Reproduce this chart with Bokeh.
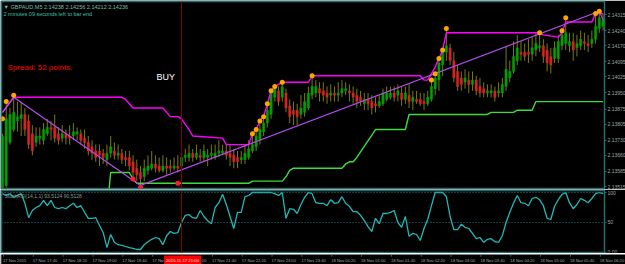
from bokeh.plotting import figure
from bokeh.layouts import column
from bokeh.models import Range1d, FixedTicker, Span, Label
from bokeh.models import ColumnDataSource
from bokeh.core.properties import value
from bokeh.embed import file_html
from bokeh.resources import INLINE

# ---------------- data (prices in pips above BASE) ----------------
BASE = 2.135
PIP = 0.0001

bar_open = [1, 2, 22, 28, 32, 33, 35, 32, 26, 22,
            24, 23, 26, 29, 29, 26, 24, 26, 25, 25,
            26, 26, 24, 22, 20, 18, 18, 17, 14, 17,
            18, 16, 17, 15, 15, 13, 10, 8, 6, 9,
            10, 12, 11, 9, 11, 11, 10, 11, 11, 15,
            15, 17, 15, 16, 15, 15, 16, 15, 17, 17,
            18, 17, 16, 15, 14, 14, 15, 18, 20, 23,
            27, 31, 35, 43, 46, 43, 45, 39, 37, 37,
            35, 36, 38, 44, 45, 47, 46, 45, 44, 45,
            44, 45, 46, 46, 45, 44, 43, 40, 42, 41,
            40, 39, 40, 42, 43, 45, 44, 45, 42, 44,
            41, 42, 42, 41, 40, 42, 47, 51, 58, 64,
            66, 60, 55, 52, 50, 51, 49, 51, 48, 47,
            45, 45, 46, 45, 45, 48, 52, 55, 60, 64,
            64, 64, 63, 65, 66, 67, 65, 62, 61, 61,
            67, 68, 67, 69, 66, 67, 69, 68, 68, 70,
            75, 76]
bar_high = [26, 41, 38, 43, 41, 41, 38, 35, 30, 29,
            29, 31, 33, 32, 35, 29, 30, 28, 30, 31,
            29, 28, 28, 25, 23, 21, 21, 19, 21, 25,
            22, 21, 19, 18, 18, 16, 14, 11, 14, 16,
            18, 16, 15, 16, 15, 14, 15, 16, 18, 19,
            21, 19, 21, 19, 21, 19, 21, 21, 23, 21,
            21, 21, 19, 18, 18, 21, 23, 26, 28, 32,
            34, 40, 46, 48, 48, 50, 47, 42, 41, 40,
            44, 45, 48, 53, 51, 50, 50, 48, 49, 48,
            50, 51, 50, 49, 48, 47, 46, 45, 45, 44,
            43, 44, 47, 48, 48, 48, 49, 48, 48, 49,
            46, 46, 45, 45, 46, 51, 54, 61, 66, 75,
            68, 64, 58, 55, 56, 55, 55, 53, 52, 50,
            49, 49, 48, 50, 52, 67, 60, 69, 72, 69,
            68, 70, 71, 73, 73, 70, 68, 66, 69, 72,
            74, 80, 73, 73, 72, 74, 73, 72, 74, 82,
            83, 82]
bar_low = [0, 1, 21, 27, 27, 25, 25, 19, 16, 20,
           21, 21, 25, 23, 22, 21, 22, 21, 21, 23,
           23, 21, 19, 16, 14, 13, 11, 12, 11, 15,
           14, 14, 12, 11, 9, 5, 4, 2, 4, 7,
           9, 8, 8, 8, 7, 8, 9, 8, 10, 13,
           13, 13, 14, 13, 13, 11, 14, 14, 15, 16,
           14, 11, 10, 10, 12, 12, 14, 17, 18, 21,
           25, 29, 33, 41, 39, 41, 36, 31, 30, 30,
           33, 34, 37, 42, 43, 41, 41, 40, 41, 41,
           41, 43, 44, 41, 40, 38, 39, 37, 37, 35,
           36, 38, 39, 41, 42, 41, 41, 39, 40, 38,
           37, 40, 39, 37, 39, 41, 44, 46, 53, 60,
           58, 50, 46, 46, 47, 45, 46, 44, 43, 43,
           43, 43, 41, 43, 43, 46, 50, 54, 58, 60,
           60, 59, 60, 62, 64, 59, 55, 54, 59, 59,
           65, 65, 64, 60, 62, 65, 65, 64, 66, 68,
           73, 74]
bar_close = [25, 33, 35, 36, 34, 35, 28, 21, 18, 25,
             25, 28, 29, 28, 24, 23, 26, 24, 24, 27,
             27, 23, 22, 18, 17, 15, 16, 15, 17, 20,
             16, 17, 14, 14, 11, 8, 7, 5, 10, 11,
             12, 10, 9, 11, 10, 10, 11, 10, 15, 16,
             17, 15, 17, 15, 18, 16, 17, 17, 18, 18,
             16, 15, 13, 13, 15, 17, 19, 21, 25, 28,
             31, 37, 45, 47, 41, 48, 38, 34, 35, 34,
             38, 41, 45, 48, 48, 45, 44, 43, 45, 44,
             45, 47, 47, 45, 43, 41, 41, 42, 40, 38,
             39, 41, 45, 45, 45, 43, 46, 42, 45, 41,
             43, 41, 40, 40, 43, 48, 52, 59, 65, 67,
             60, 52, 48, 49, 52, 49, 51, 46, 45, 45,
             46, 46, 43, 46, 49, 56, 55, 62, 66, 63,
             62, 63, 66, 68, 67, 62, 59, 58, 66, 69,
             72, 73, 69, 65, 68, 70, 68, 67, 70, 76,
             80, 79]

# trailing upper (magenta) and lower (green) levels, bar index -> pips
upper_bar = [0, 3, 32, 33, 35, 43, 45, 47, 48, 50, 51, 59, 60, 66, 67, 68, 69, 70,
             71, 72, 73, 75, 82, 83, 112, 113, 114, 115, 116, 117, 118, 119, 144,
             145, 149, 150, 151, 158, 159, 161]
upper_val = [36, 43, 43, 42, 38, 38, 34, 34, 33, 28, 25, 24, 21, 21, 26, 28, 32, 34,
             40, 46, 48, 50, 50, 53, 53, 51, 51, 54, 57, 61, 65, 73, 73,
             72, 71, 73, 78, 78, 82, 82]
lower_bar = [0, 28, 29, 34, 35, 36, 66, 67, 75, 76, 77, 78, 91, 92, 93, 94, 95, 100,
             108, 109, 130, 131, 137, 138, 142, 143, 161]
lower_val = [-10, -10, 8, 8, 5, 3, 3, 4, 4, 6, 9, 10, 10, 12, 13, 13, 15, 28,
             28, 35, 35, 36, 36, 37, 37, 41, 41]

# zigzag pivots
zz_bar = [0, 3, 37, 160, 161]
zz_val = [36, 43, 2, 83, 79]

# signal dots
orange_bar = [0, 1, 3, 67, 68, 69, 70, 71, 72, 73, 75, 83, 115, 116, 117, 118, 119,
              144, 150, 151, 159, 160]
orange_val = [33, 41, 44, 26, 28, 32, 34, 40, 46, 48, 50, 53, 51, 54, 61, 65, 75,
              73, 74, 80, 82, 83]
red_bar = [35, 37, 47]
red_val = [5, 1, 3]

# oscillator (0..100) per bar
osc = [98, 95, 98, 92, 95, 98, 82, 58, 70, 75,
       78, 87, 78, 87, 75, 73, 75, 73, 78, 82,
       75, 78, 67, 57, 57, 58, 45, 33, 8, 30,
       17, 13, 12, 10, 8, 7, 5, 5, 13, 18,
       22, 25, 23, 13, 28, 35, 32, 33, 50, 62,
       63, 58, 57, 70, 60, 53, 48, 75, 83, 97,
       80, 60, 40, 67, 67, 93, 95, 100, 100, 100,
       100, 100, 100, 98, 95, 100, 57, 73, 72, 65,
       80, 92, 100, 98, 83, 82, 82, 78, 88, 82,
       83, 93, 82, 77, 68, 68, 62, 53, 43, 35,
       57, 48, 65, 65, 67, 70, 50, 42, 60, 27,
       32, 30, 20, 40, 55, 78, 100, 100, 100, 93,
       60, 38, 38, 47, 42, 40, 32, 23, 25, 17,
       22, 23, 18, 17, 28, 50, 67, 82, 95, 83,
       82, 78, 90, 92, 88, 78, 57, 55, 77, 88,
       97, 100, 83, 73, 80, 90, 87, 83, 90, 98,
       100, 98]

price_ticks = [2.14315, 2.14240, 2.14170, 2.14095, 2.14025, 2.13950,
               2.13875, 2.13805, 2.13730, 2.13660, 2.13585, 2.13515]
price_tick_labels = ["2.14315", "2.14240", "2.14170", "2.14095", "2.14025", "2.13950",
                     "2.13875", "2.13805", "2.13730", "2.13660", "2.13585", "2.13515"]
osc_ticks = [0, 50, 100]
osc_tick_labels = ["0.00", "50", "100"]
time_tick_bars = [0, 8, 16, 24, 32, 40, 48, 56, 64, 72, 80, 88, 96, 104, 112, 120,
                  128, 136, 144, 152, 160]
time_tick_labels = ["17 Nov 2015", "17 Nov 17:40", "17 Nov 18:20", "17 Nov 19:00",
                    "17 Nov 19:40", "17 Nov 20:20", "17 Nov 21:00", "17 Nov 21:40",
                    "17 Nov 22:20", "17 Nov 23:00", "17 Nov 23:40", "18 Nov 00:20",
                    "18 Nov 01:00", "18 Nov 01:40", "18 Nov 02:20", "18 Nov 03:00",
                    "18 Nov 03:40", "18 Nov 04:20", "18 Nov 05:00", "18 Nov 05:40",
                    "18 Nov 06:20"]
marker_bar = 48
marker_label = "2015.11.17 21:00"
title_line1 = "\u25bc GBPAUD,M5  2.14238 2.14256 2.14212 2.14236"
title_line2 = "2 minutes 09 seconds left to bar end"
spread_text = "Spread: 52 points."
signal_text = "BUY"
osc_title = "StochRSI(14,1,1) 93.5124 90.5128"

# ---------------- styling / layout ----------------
FONT = "Liberation Sans"
BG = "black"
FRAME = "#2C6A6A"
AXIS_TXT = "#9AA8A8"
WICK = "#7A7A10"
BULL = "#00A000"
BEAR = "#D42424"
FRAME_W = 603
AXIS_W = 21

n = len(bar_close)
idx = list(range(n))
to_price = lambda vals: [BASE + v * PIP for v in vals]

o = to_price(bar_open); h = to_price(bar_high); l = to_price(bar_low); c = to_price(bar_close)
src = ColumnDataSource(dict(
    x=idx, h=h, l=l,
    top=[max(a, b) for a, b in zip(o, c)],
    bottom=[min(a, b) for a, b in zip(o, c)],
    color=[BULL if cc >= oo else BEAR for oo, cc in zip(o, c)],
))

X0, X1 = -0.27, 161.39
PX_PER_BAR = FRAME_W / (X1 - X0)
Y_RANGE = (2.135057, 2.143755)


def style_right_axis(ax):
    ax.minor_tick_line_color = None
    ax.axis_line_color = FRAME
    ax.major_tick_line_color = FRAME
    ax.major_tick_out = 2
    ax.major_tick_in = 0
    ax.major_label_standoff = 1
    ax.major_label_text_font = FONT
    ax.major_label_text_font_size = "5px"
    ax.major_label_text_color = AXIS_TXT


p = figure(frame_width=FRAME_W, frame_height=187,
           x_range=Range1d(X0, X1), y_range=Range1d(*Y_RANGE),
           x_axis_location=None, y_axis_location="right",
           toolbar_location=None, output_backend="svg",
           background_fill_color=BG, border_fill_color=BG,
           min_border_left=1, min_border_top=1, min_border_bottom=1, min_border_right=AXIS_W,
           outline_line_color=FRAME, outline_line_width=1.5)
p.grid.visible = False
ya = p.yaxis[0]
ya.ticker = FixedTicker(ticks=price_ticks)
ya.major_label_overrides = {t: s for t, s in zip(price_ticks, price_tick_labels)}
style_right_axis(ya)

p.add_layout(Span(location=marker_bar, dimension="height", line_color="#8B0000", line_width=1))

p.segment(x0="x", y0="l", x1="x", y1="h", line_color=WICK, line_width=1, source=src)
p.vbar(x="x", width=0.62, top="top", bottom="bottom", fill_color="color",
       line_color="color", line_width=0.4, source=src)

p.line(lower_bar, to_price(lower_val), line_color="#3CDC3C", line_width=1.4)
p.line(upper_bar, to_price(upper_val), line_color="#FF00FF", line_width=1.4)
p.line(zz_bar, to_price(zz_val), line_color="#B44CF0", line_width=1.2)
p.scatter(orange_bar, to_price(orange_val), size=5, fill_color="#FFA500", line_color=None)
p.scatter(red_bar, to_price(red_val), size=5, fill_color="#FF1A3C", line_color=None)

p.add_layout(Label(x=2, y=185, x_units="screen", y_units="screen", text=title_line1,
                   text_font=FONT, text_font_size="5.5px", text_color="#7FB8B0",
                   text_baseline="top"))
p.add_layout(Label(x=2, y=178, x_units="screen", y_units="screen", text=title_line2,
                   text_font=FONT, text_font_size="5.5px", text_color="#3CC0A8",
                   text_baseline="top"))
p.add_layout(Label(x=6, y=126, x_units="screen", y_units="screen", text=spread_text,
                   text_font=FONT, text_font_size="8px", text_color="#FF0000",
                   text_baseline="top"))
p.add_layout(Label(x=155, y=117, x_units="screen", y_units="screen", text=signal_text,
                   text_font=FONT, text_font_size="9px", text_color="#FFFFFF",
                   text_baseline="top"))

# ---------------- oscillator panel ----------------
q = figure(frame_width=FRAME_W, frame_height=63,
           x_range=p.x_range, y_range=Range1d(-1.67, 103.33),
           x_axis_location=None, y_axis_location="right",
           toolbar_location=None, output_backend="svg",
           background_fill_color=BG, border_fill_color=BG,
           min_border_left=1, min_border_top=1, min_border_bottom=0, min_border_right=AXIS_W,
           outline_line_color=FRAME, outline_line_width=1.5)
q.grid.visible = False
qa = q.yaxis[0]
qa.ticker = FixedTicker(ticks=osc_ticks)
qa.major_label_overrides = {t: s for t, s in zip(osc_ticks, osc_tick_labels)}
style_right_axis(qa)

for lv in osc_ticks:
    q.add_layout(Span(location=lv, dimension="width", line_color="#2A8080",
                      line_dash="1 2", line_width=1))
q.add_layout(Span(location=marker_bar, dimension="height", line_color="#8B0000", line_width=1))

q.line(idx, osc, line_color="#20B8B8", line_width=1.3)

q.add_layout(Label(x=3, y=61, x_units="screen", y_units="screen", text=osc_title,
                   text_font=FONT, text_font_size="5px", text_color="#8A9A9A",
                   text_baseline="top"))

# ---------------- time scale strip (same bar scale as the panels) ----------------
s = figure(frame_width=FRAME_W + 1 + AXIS_W, frame_height=11,
           x_range=Range1d(X0 - 1 / PX_PER_BAR, X1 + AXIS_W / PX_PER_BAR),
           y_range=Range1d(0, 1),
           x_axis_location=None, y_axis_location=None,
           toolbar_location=None, output_backend="svg",
           background_fill_color=BG, border_fill_color=BG,
           min_border_left=0, min_border_top=0, min_border_bottom=0, min_border_right=0,
           outline_line_color=None)
s.grid.visible = False
s.segment(x0=time_tick_bars, y0=[1] * len(time_tick_bars), x1=time_tick_bars,
          y1=[0.8] * len(time_tick_bars), line_color=FRAME, line_width=1)
s.text(x=time_tick_bars, y=[0.45] * len(time_tick_bars), text=time_tick_labels,
       x_offset=-0.5, text_align="left", text_baseline="middle",
       text_font=value(FONT), text_font_size=value("4.1px"), text_color=AXIS_TXT)
s.segment(x0=[marker_bar], y0=[1], x1=[marker_bar], y1=[0.9], line_color="#8B0000")
s.rect(x=[marker_bar], y=[0.5], width=37, height=9, width_units="screen",
       height_units="screen", fill_color="#FF0000", line_color=None)
s.text(x=[marker_bar], y=[0.45], text=[marker_label], text_align="center",
       text_baseline="middle", text_font=value(FONT), text_font_size=value("4.3px"),
       text_color="#FFE8E8")

layout = column(p, q, s, spacing=0)
open("out.html", "w").write(file_html(layout, INLINE))
